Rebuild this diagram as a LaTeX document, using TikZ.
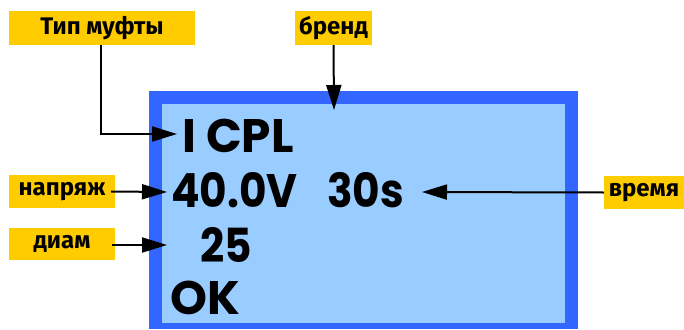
\documentclass[tikz,border=0pt]{standalone}
\usepackage{fontspec}
\setmainfont{Poppins}
\newfontfamily\labelfont{Fira Sans}
\usetikzlibrary{arrows.meta}
\definecolor{outerblue}{HTML}{3366FF}
\definecolor{innerblue}{HTML}{99CCFF}
\definecolor{labelyellow}{HTML}{FFCC00}
\tikzset{
  lbl/.style={fill=labelyellow, inner sep=0pt, font=\labelfont\fontsize{24}{24}\selectfont\bfseries, text=black},
  disp/.style={anchor=base west, inner sep=0pt, font=\fontsize{47}{47}\selectfont\bfseries, text=black},
  arr/.style={line width=2pt, -{Triangle[length=25pt,width=15pt]}}
}
\begin{document}
\begin{tikzpicture}[x=1pt,y=-1pt]
\useasboundingbox (0,0) rectangle (684,329);
% display
\fill[outerblue] (149,91) rectangle (578,329);
\fill[innerblue] (162,104) rectangle (565,323);
% labels
\node[lbl, minimum width=186pt, minimum height=34pt] (tip) at (102,28) {Тип муфты};
\node[lbl, minimum width=77pt, minimum height=34pt] (brand) at (333.5,28) {бренд};
\node[lbl, minimum width=106pt, minimum height=33pt] (volt) at (62,191.5) {напряж};
\node[lbl, minimum width=106pt, minimum height=32pt] (diam) at (62,244) {диам};
\node[lbl, minimum width=80pt, minimum height=33pt] (time) at (644,192.5) {время};
% display text
\node[disp] (cpl) at (182,152) {I CPL};
\node[disp, xscale=0.9] (v) at (171,207) {40.0V};
\node[disp, xscale=0.9] (s) at (327,207) {30s};
\node[disp, xscale=0.9] (d) at (200,262) {25};
\node[disp] (ok) at (170,314) {OK};
% arrow targets
\coordinate (tipend) at (177,134);
\coordinate (brandend) at (334,110);
\coordinate (voltend) at (167,192);
\coordinate (diamend) at (167,245);
\coordinate (timeend) at (422,192);
% arrows
\draw[arr] (tip.south -| 101,0) |- (tipend);
\draw[arr] (brand.south) -- (brandend);
\draw[arr] (volt.east) ++(-4,0) -- (voltend);
\draw[arr] (112,245) -- (diamend);
\draw[arr] (time.west) -- (timeend);
\end{tikzpicture}
\end{document}
